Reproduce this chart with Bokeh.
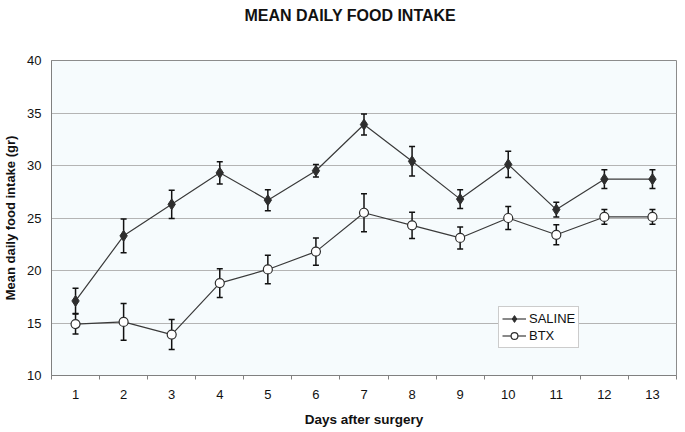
from bokeh.plotting import figure
from bokeh.models import (ColumnDataSource, FixedTicker, Whisker, TeeHead, Legend,
                          LegendItem, Range1d, Title)
from bokeh.embed import file_html
from bokeh.resources import INLINE

days = list(range(1, 14))
saline = [17.1, 23.3, 26.3, 29.3, 26.7, 29.5, 33.9, 30.4, 26.8, 30.1, 25.8, 28.7, 28.7]
saline_err = [1.2, 1.6, 1.35, 1.05, 1.0, 0.6, 1.0, 1.4, 0.9, 1.25, 0.7, 0.9, 0.9]
btx = [14.9, 15.1, 13.9, 18.8, 20.1, 21.8, 25.5, 24.3, 23.1, 25.0, 23.4, 25.1, 25.1]
btx_err = [0.95, 1.75, 1.43, 1.36, 1.35, 1.3, 1.8, 1.25, 1.05, 1.1, 0.95, 0.7, 0.7]
y_ticks = [10, 15, 20, 25, 30, 35, 40]

FONT = "Liberation Sans"
DARK = "#3a3a3a"

p = figure(width=685, height=432, output_backend="svg", toolbar_location=None,
           x_range=Range1d(0.5, 13.5), y_range=Range1d(10, 40),
           min_border_left=50, min_border_right=9, min_border_top=60, min_border_bottom=57,
           title="MEAN DAILY FOOD INTAKE")
p.border_fill_color = "white"
p.background_fill_color = "#f6fbfd"
p.outline_line_color = "#8c8c8c"
p.outline_line_width = 1

p.title.text_font = FONT
p.title.text_font_size = "16px"
p.title.text_font_style = "bold"
p.title.text_color = "#111111"
p.title.align = "left"
p.title.offset = 193
p.title.standoff = 0

# empty spacer between the frame and the title
p.add_layout(Title(text=" ", standoff=19, text_font_size="14px"), "above")

p.xgrid.grid_line_color = None
p.ygrid.grid_line_color = "#b4b4b4"
p.ygrid.grid_line_width = 1

p.xaxis.ticker = FixedTicker(ticks=days, minor_ticks=[d - 0.5 for d in days] + [13.5])
p.xaxis.major_tick_out = 0
p.xaxis.major_tick_in = 0
p.xaxis.minor_tick_out = 4
p.xaxis.minor_tick_in = 0
p.xaxis.minor_tick_line_color = "#808080"
p.xaxis.axis_line_color = "#808080"
p.xaxis.major_label_standoff = 10
p.xaxis.major_label_text_font = FONT
p.xaxis.major_label_text_font_size = "13px"
p.xaxis.major_label_text_color = "#111111"
p.xaxis.axis_label = "Days after surgery"
p.xaxis.axis_label_text_font = FONT
p.xaxis.axis_label_text_font_size = "13.5px"
p.xaxis.axis_label_text_font_style = "bold"
p.xaxis.axis_label_text_color = "#111111"
p.xaxis.axis_label_standoff = 10

p.yaxis.ticker = FixedTicker(ticks=y_ticks, minor_ticks=[])
p.yaxis.major_tick_out = 0
p.yaxis.major_tick_in = 0
p.yaxis.axis_line_color = "#808080"
p.yaxis.major_label_standoff = 10
p.yaxis.major_label_text_font = FONT
p.yaxis.major_label_text_font_size = "13px"
p.yaxis.major_label_text_color = "#111111"
p.yaxis.axis_label = "Mean daily food intake (gr)"
p.yaxis.axis_label_text_font = FONT
p.yaxis.axis_label_text_font_size = "13px"
p.yaxis.axis_label_text_font_style = "bold"
p.yaxis.axis_label_text_color = "#111111"
p.yaxis.axis_label_standoff = 6

src_s = ColumnDataSource(dict(x=days, y=saline,
                              lo=[v - e for v, e in zip(saline, saline_err)],
                              hi=[v + e for v, e in zip(saline, saline_err)]))
src_b = ColumnDataSource(dict(x=days, y=btx,
                              lo=[v - e for v, e in zip(btx, btx_err)],
                              hi=[v + e for v, e in zip(btx, btx_err)]))

for src in (src_s, src_b):
    w = Whisker(source=src, base="x", lower="lo", upper="hi", line_color="#111111",
                line_width=1.5, level="underlay",
                upper_head=TeeHead(size=6, line_color="#111111", line_width=1.5),
                lower_head=TeeHead(size=6, line_color="#111111", line_width=1.5))
    p.add_layout(w)

ls = p.line("x", "y", source=src_s, line_color=DARK, line_width=1.2)
ms = p.scatter("x", "y", source=src_s, marker="diamond", size=11,
               fill_color="#2e2e2e", line_color="#2e2e2e")
lb = p.line("x", "y", source=src_b, line_color=DARK, line_width=1.2)
mb = p.scatter("x", "y", source=src_b, marker="circle", size=9,
               fill_color="white", line_color="#2e2e2e", line_width=1.2)

legend = Legend(items=[LegendItem(label="SALINE", renderers=[ls, ms]),
                       LegendItem(label="BTX", renderers=[lb, mb])],
                location=(447, 27), padding=3, spacing=0, margin=0,
                glyph_height=17, glyph_width=24, label_standoff=3,
                label_text_font=FONT, label_text_font_size="13px",
                label_text_color="#111111",
                border_line_color="#9a9a9a", border_line_width=1,
                background_fill_color="white", background_fill_alpha=1)
p.add_layout(legend, "center")

open("out.html", "w").write(file_html(p, INLINE))
